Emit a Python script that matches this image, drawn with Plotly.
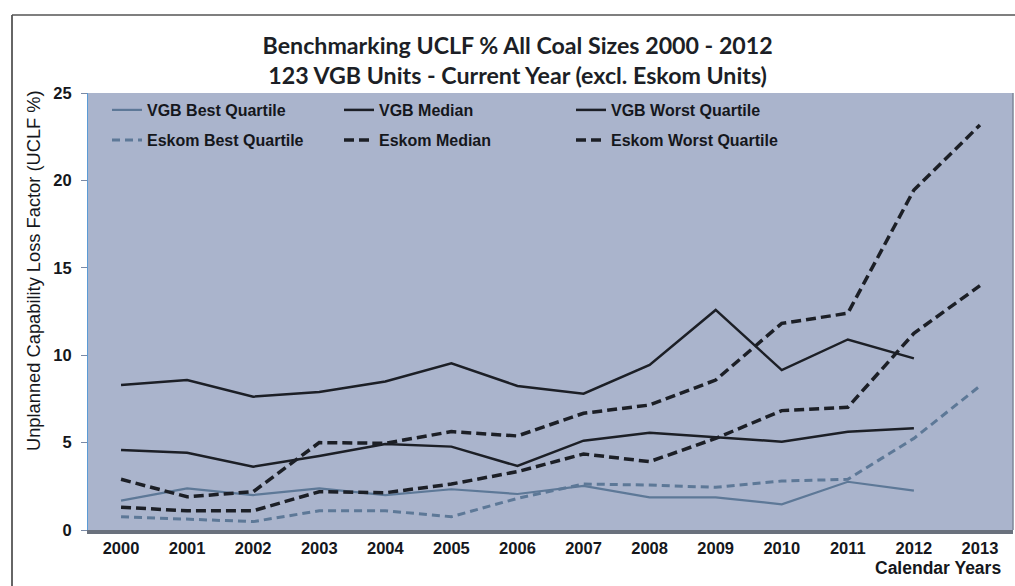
import plotly.graph_objects as go

years = [str(y) for y in range(2000, 2014)]

vgb_best = [1.68, 2.38, 2.0, 2.38, 2.0, 2.33, 2.06, 2.52, 1.87, 1.87, 1.47, 2.76, 2.25, None]
vgb_median = [4.58, 4.42, 3.62, 4.23, 4.92, 4.77, 3.66, 5.11, 5.57, 5.3, 5.05, 5.62, 5.82, None]
vgb_worst = [8.3, 8.58, 7.63, 7.9, 8.5, 9.54, 8.24, 7.8, 9.44, 12.59, 9.15, 10.9, 9.82, None]
eskom_best = [0.76, 0.61, 0.48, 1.1, 1.1, 0.76, 1.81, 2.63, 2.57, 2.44, 2.8, 2.9, 5.24, 8.24]
eskom_median = [1.3, 1.1, 1.1, 2.19, 2.13, 2.63, 3.34, 4.35, 3.91, 5.24, 6.83, 7.02, 11.25, 13.98]
eskom_worst = [2.9, 1.9, 2.19, 5.0, 4.96, 5.63, 5.38, 6.68, 7.15, 8.58, 11.82, 12.4, 19.45, 23.17]

W, H = 1015, 586
ML, MR, MT, MB = 88, 2, 93, 56
PW, PH = W - ML - MR, H - MT - MB

BLUE = "#5d7897"
BLACK = "#1c1f26"
ARIAL = "Liberation Sans, Arial, sans-serif"

fig = go.Figure()
series = [
    ("VGB Best Quartile", vgb_best, BLUE, "solid", 2.2, "legend"),
    ("VGB Median", vgb_median, BLACK, "solid", 2.5, "legend"),
    ("VGB Worst Quartile", vgb_worst, BLACK, "solid", 2.5, "legend"),
    ("Eskom Best Quartile", eskom_best, BLUE, "8px,5px", 3, "legend2"),
    ("Eskom Median", eskom_median, BLACK, "10px,5px", 3.5, "legend2"),
    ("Eskom Worst Quartile", eskom_worst, BLACK, "10px,5px", 3.5, "legend2"),
]
for name, vals, col, dash, w, lg in series:
    fig.add_trace(go.Scatter(
        x=years, y=vals, name=name, mode="lines",
        line=dict(color=col, dash=dash, width=w),
        connectgaps=False, legend=lg,
    ))

def px2paper_x(px):
    return (px - ML) / PW

def px2paper_y(py):
    return (H - MB - py) / PH

legend_common = dict(
    orientation="h", bgcolor="rgba(0,0,0,0)", borderwidth=0,
    font=dict(family=ARIAL, size=16, color="#15171c", weight="bold"),
    entrywidth=187, entrywidthmode="pixels", xanchor="left", yanchor="middle",
    itemwidth=30,
)

fig.update_layout(
    width=W, height=H,
    margin=dict(l=ML, r=MR, t=MT, b=MB),
    paper_bgcolor="white",
    plot_bgcolor="#aab4cc",
    title=dict(
        text="<b>Benchmarking UCLF % All Coal Sizes 2000 - 2012<br>123 VGB Units - Current Year (excl. Eskom Units)</b>",
        x=0.51, xanchor="center", y=1 - 54 / H, yanchor="middle",
        font=dict(family="Lato, sans-serif", size=23.2, color="#1c1f26"),
    ),
    legend=dict(x=px2paper_x(107), y=px2paper_y(110), **legend_common),
    legend2=dict(x=px2paper_x(107), y=px2paper_y(140), **legend_common),
    xaxis=dict(
        type="category", range=[-0.5, 13.5],
        showgrid=False, zeroline=False,
        showline=True, linecolor="#6a717d", linewidth=4,
        ticks="", ticklabelstandoff=0,
        tickfont=dict(family=ARIAL, size=16.5, color="#15171c", weight="bold"),
    ),
    yaxis=dict(
        range=[0, 25], tickvals=[0, 5, 10, 15, 20, 25],
        showgrid=False, zeroline=False,
        showline=True, linecolor="#5b9bd5", linewidth=1,
        ticks="outside", ticklen=6, tickcolor="#7a8aa6",
        ticklabelstandoff=6,
        tickfont=dict(family=ARIAL, size=16.5, color="#15171c", weight="bold"),
    ),
    showlegend=True,
)

fig.add_annotation(
    text="<b>Calendar Years</b>", xref="paper", yref="paper",
    x=1, xanchor="right", xshift=-10, y=px2paper_y(568), yanchor="middle",
    showarrow=False, font=dict(family=ARIAL, size=17.5, color="#15171c"),
)
fig.add_annotation(
    text="Unplanned Capability Loss Factor (UCLF %)", xref="paper", yref="paper",
    x=px2paper_x(33), xanchor="center", y=px2paper_y(271), yanchor="middle",
    textangle=-90, showarrow=False,
    font=dict(family=ARIAL, size=18.3, color="#15171c"),
)

# outer frame of the chart
fig.add_shape(type="line", xref="paper", yref="paper",
              x0=px2paper_x(12), x1=px2paper_x(12), y0=px2paper_y(15), y1=px2paper_y(586),
              line=dict(color="#333", width=1.5))
fig.add_shape(type="line", xref="paper", yref="paper",
              x0=px2paper_x(12), x1=px2paper_x(1015), y0=px2paper_y(15), y1=px2paper_y(15),
              line=dict(color="#555", width=1.5))
# right edge of plot area
fig.add_shape(type="line", xref="paper", yref="paper",
              x0=1, x1=1, y0=0, y1=1, line=dict(color="#7d8799", width=1.5))

fig.write_html(
    "out.html",
    config={"displayModeBar": False},
    post_script="document.body.style.margin='0';document.body.style.overflow='hidden';",
)
